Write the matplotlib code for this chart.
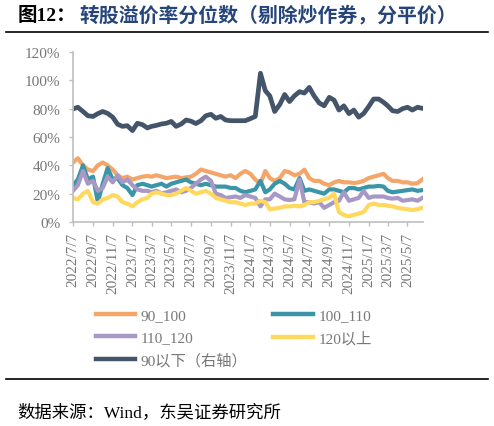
import datetime as dt
import matplotlib
matplotlib.use("Agg")
import matplotlib.pyplot as plt
from matplotlib.lines import Line2D

plt.rcParams["font.family"] = ["Liberation Serif", "Noto Sans CJK SC"]

# semi-monthly observation dates (7th and 22nd)
dates = []
for yr in range(2022, 2026):
    for mo in range(1, 13):
        for dd in (7, 22):
            d = dt.date(yr, mo, dd)
            if dt.date(2022, 7, 7) <= d <= dt.date(2025, 6, 22):
                dates.append(d)

s90_100 = [42, 45, 40, 37, 36, 40, 42, 40, 37, 33, 31, 32, 30, 31, 32, 32.5, 32, 33,
           32, 31, 31.5, 32, 31, 31.5, 32, 34, 37, 36, 35, 34, 33, 32, 33, 31, 34, 36,
           34, 30, 27, 36, 31, 29, 31, 36, 35, 33, 34, 37, 31, 29, 29, 27, 26, 28,
           29, 28, 28, 27.5, 28, 29, 31, 32, 33, 34, 31, 29, 29, 28, 28, 27, 27.5, 30]
s100_110 = [26, 30, 40, 30, 32, 14, 27, 38, 30, 31, 26, 24, 19, 26, 27, 26, 25, 26,
            27, 25, 27, 28, 29, 30, 28, 27, 26, 27, 26, 25, 25, 25, 24, 24, 22, 21,
            22, 23, 29, 21, 23, 27, 29, 27, 24, 23, 31, 22, 23, 22, 21, 20, 23, 23,
            22, 21, 24, 24, 23, 24, 25, 25, 25.5, 25, 22, 21, 21.5, 22, 22.5, 23, 22, 22.5]
s110_120 = [22, 26, 36, 27, 29, 22, 24, 32, 28, 33, 28, 30, 26, 23, 22, 22, 21, 22,
            20, 21, 22, 23, 21, 22, 24, 27, 30, 32, 29, 20, 19, 17, 17.5, 18, 17, 19,
            18, 17, 11, 16, 16, 20, 18, 16, 15.5, 16, 30, 14, 14, 13, 14, 10, 12, 14,
            15, 21, 15, 16, 17, 22, 17, 18, 18, 18, 17, 16.5, 17, 15, 15.5, 16, 15, 17]
s120_up = [17, 16, 20, 22, 14, 13, 16, 17, 19, 18, 14, 13, 11, 14, 16, 17, 20, 21,
           20, 19, 19, 20, 22, 24, 22, 20, 21, 22, 20, 17, 16, 15, 14, 14, 13, 12,
           13, 13, 15, 14, 9, 9.5, 10, 11, 11, 11.5, 11, 12, 14, 14, 15, 16, 17, 20,
           7, 5, 4, 5, 6, 7, 12, 13, 12, 12, 11.5, 11, 10, 9.5, 9, 8.5, 9, 10]
s90_below = [79.8, 81, 78, 75, 74.5, 76.5, 78, 76.7, 74, 69, 67.5, 68, 64.5, 69.7, 68.7,
             66.4, 67.5, 68.2, 69.2, 69.7, 71, 67.5, 69.2, 72, 71.2, 69.5, 71.5, 75, 76,
             73.2, 74.5, 72, 71.5, 71.5, 71.5, 71.5, 73, 74.5, 105, 92.7, 89, 78, 83, 90,
             85, 89, 92, 91, 95, 89, 84, 82, 88, 86, 79, 82, 76.5, 79, 74, 76.5, 81.5,
             86.8, 86.8, 84.5, 82, 78.5, 78, 80, 81, 79, 81, 80.2]

labels = ["90_100", "100_110", "110_120", "120以上", "90以下（右轴）"]
colors = ["#F4A66A", "#3B95A6", "#A898C6", "#FFD95E", "#44546A"]
tick_labels = ["2022/7/7", "2022/9/7", "2022/11/7", "2023/1/7", "2023/3/7", "2023/5/7",
               "2023/7/7", "2023/9/7", "2023/11/7", "2024/1/7", "2024/3/7", "2024/5/7",
               "2024/7/7", "2024/9/7", "2024/11/7", "2025/1/7", "2025/3/7", "2025/5/7"]

fig = plt.figure(figsize=(4.94, 4.27), dpi=100)
ax = fig.add_axes([73 / 494, 1 - 223 / 427, 350 / 494, 170 / 427])

series = [s90_100, s100_110, s110_120, s120_up, s90_below]
for s, c, lab in zip(series, colors, labels):
    lw = 3.4 if lab.startswith("90以下") else 3.0
    ax.plot(dates, s, color=c, lw=lw, label=lab)

ax.set_ylim(0, 120)
ax.set_yticks(range(0, 121, 20))
ax.set_yticklabels([f"{v}%" for v in range(0, 121, 20)])
tick_dates = [dt.datetime.strptime(t, "%Y/%m/%d").date() for t in tick_labels]
ax.set_xticks(tick_dates)
ax.set_xticklabels(tick_labels, rotation=90)
ax.set_xlim(dt.date(2022, 7, 7), dt.date(2025, 6, 24))

for side in ("top", "right"):
    ax.spines[side].set_visible(False)
for side in ("left", "bottom"):
    ax.spines[side].set_color("#BFBFBF")
    ax.spines[side].set_linewidth(1.2)
ax.tick_params(axis="both", direction="out", length=3, width=1, color="#BFBFBF",
               labelcolor="#777777", labelsize=11)
ax.tick_params(axis="y", pad=6)
ax.tick_params(axis="x", pad=4)

# legend in row order
order = [0, 2, 4, 1, 3]
handles = [Line2D([], [], color=colors[i], lw=3.2) for i in order]
fig.legend(handles, [labels[i] for i in order], ncol=2, frameon=False,
           loc="upper left", bbox_to_anchor=(88 / 494, 1 - 302 / 427),
           fontsize=11, labelcolor="#777777", handlelength=2.6,
           handletextpad=0.35, columnspacing=1.7, labelspacing=0.55, borderpad=0)

fig.text(18 / 494, 1 - 16 / 427, "图12：", fontsize=14, fontweight="bold",
         color="black", va="center")
fig.text(79 / 494, 1 - 16 / 427, "转股溢价率分位数（剔除炒作券，分平价）", fontsize=14.3,
         fontweight="bold", color="#26457A", va="center")
fig.add_artist(Line2D([6 / 494, 488 / 494], [1 - 33 / 427, 1 - 33 / 427],
                      color="black", lw=1.2))
fig.add_artist(Line2D([6 / 494, 488 / 494], [1 - 380 / 427, 1 - 380 / 427],
                      color="black", lw=1.2))
fig.text(17 / 494, 1 - 413 / 427, "数据来源：Wind，东吴证券研究所", fontsize=12.5,
         color="black", va="center")

fig.savefig("out.png", dpi=100)
